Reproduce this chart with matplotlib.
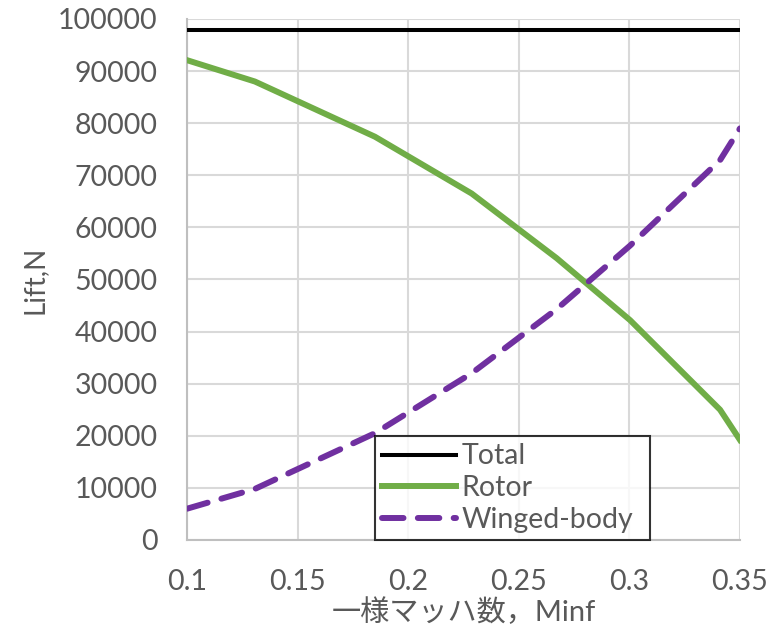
import matplotlib
matplotlib.use("Agg")
import matplotlib.pyplot as plt

plt.rcParams['font.family'] = ['Lato', 'Noto Sans CJK JP', 'DejaVu Sans']

# data
mach = [0.1, 0.1307, 0.185, 0.2287, 0.2671, 0.3003, 0.341, 0.35]
total = [97900, 97900, 97900, 97900, 97900, 97900, 97900, 97900]
rotor = [92100, 88000, 77400, 66500, 54100, 42200, 25000, 19200]
winged = [6000, 9800, 20500, 32000, 44300, 56500, 72900, 79000]

txt = '#595959'
grid = '#d9d9d9'

fig = plt.figure(figsize=(7.72, 6.27), dpi=100)
ax = fig.add_axes([0.2422, 0.1388, 0.9585 - 0.2422, 0.9697 - 0.1388])

ax.plot(mach, total, color='black', lw=2.9, label='Total', zorder=3)
ax.plot(mach, rotor, color='#70ad47', lw=4.3, label='Rotor', zorder=3)
ax.plot(mach, winged, color='#7030a0', lw=4.3, ls=(0, (3.6, 2.4)),
        dash_capstyle='round', label='Winged-body', zorder=3)

ax.set_xlim(0.1, 0.35)
ax.set_ylim(0, 100000)
ax.set_xticks([0.1, 0.15, 0.2, 0.25, 0.3, 0.35])
ax.set_xticklabels(['0.1', '0.15', '0.2', '0.25', '0.3', '0.35'])
ax.set_yticks(range(0, 100001, 10000))
ax.grid(True, color=grid, lw=1.5, zorder=0)
for s in ['top', 'right']:
    ax.spines[s].set_visible(False)
for s in ['left', 'bottom']:
    ax.spines[s].set_color('#bfbfbf')
    ax.spines[s].set_linewidth(1.5)
ax.tick_params(length=0, labelsize=20.5, colors=txt)
ax.tick_params(axis='y', pad=21)
ax.tick_params(axis='x', pad=21)

ax.set_ylabel('Lift,N', fontsize=20, color=txt, labelpad=8)
ax.set_xlabel('一様マッハ数，Minf', fontsize=21, color=txt, labelpad=2)

leg = ax.legend(loc='lower left', bbox_to_anchor=(0.34, 0.0, 0.497, 0.2),
                mode='expand', fontsize=20.5, frameon=True, fancybox=False,
                borderpad=0.25, labelspacing=0.2, handlelength=2.6,
                handletextpad=0.2, borderaxespad=0)
leg.get_frame().set_edgecolor('black')
leg.get_frame().set_linewidth(1.5)
for t in leg.get_texts():
    t.set_color(txt)

fig.savefig('out.png', dpi=100)
